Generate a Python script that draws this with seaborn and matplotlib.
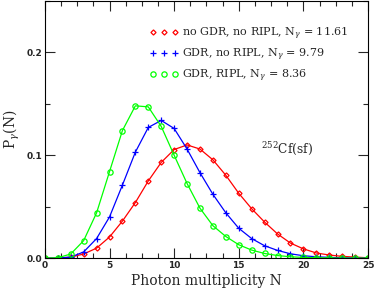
import seaborn as sns
import matplotlib.pyplot as plt
import numpy as np
from matplotlib.lines import Line2D
from matplotlib.ticker import MultipleLocator

sns.set_theme(style="ticks")
plt.rcParams["font.family"] = ["DejaVu Serif"]
plt.rcParams["mathtext.fontset"] = "dejavuserif"

N = np.arange(0, 26)

# no GDR, no RIPL
p_red = [0.0, 0.0, 0.001, 0.004, 0.0097, 0.0205, 0.036, 0.054, 0.075, 0.093,
         0.1055, 0.110, 0.106, 0.0955, 0.0805, 0.063, 0.048, 0.035, 0.0235,
         0.0146, 0.009, 0.005, 0.003, 0.0017, 0.001, 0.0003]
# GDR, no RIPL
p_blue = [0.0, 0.0, 0.001, 0.006, 0.019, 0.040, 0.071, 0.103, 0.127, 0.1338,
          0.126, 0.106, 0.083, 0.062, 0.044, 0.029, 0.019, 0.012, 0.0075,
          0.0042, 0.0023, 0.0013, 0.0007, 0.0003, 0.0001, 0.0]
# GDR, RIPL
p_green = [0.0, 0.0003, 0.004, 0.017, 0.044, 0.084, 0.124, 0.148, 0.147, 0.128,
           0.100, 0.0725, 0.0485, 0.0315, 0.021, 0.013, 0.0078, 0.0045, 0.0025,
           0.0013, 0.0007, 0.0004, 0.0002, 0.0, 0.0, 0.0]

labels = [r"no GDR, no RIPL, N$_\gamma$ = 11.61",
          r"GDR, no RIPL, N$_\gamma$ = 9.79",
          r"GDR, RIPL, N$_\gamma$ = 8.36"]
xticks = [0, 5, 10, 15, 20, 25]
yticks = [0.0, 0.1, 0.2]
colors = ["#ff0000", "#0000ff", "#00ff00"]
markers = ["D", "+", "o"]
msizes = [2.6, 4.5, 3.8]

fig = plt.figure(figsize=(3.74, 2.91), dpi=100)
ax = fig.add_axes([0.120, 0.113, 0.864, 0.884])

handles = []
for vals, c, m, ms, lab in zip([p_red, p_blue, p_green], colors, markers, msizes, labels):
    sns.lineplot(x=N, y=vals, ax=ax, color=c, linewidth=0.9, marker=m,
                 markersize=ms, markerfacecolor="none", markeredgecolor=c,
                 markeredgewidth=0.9)
    handles.append(Line2D([], [], linestyle="none", marker=m, color=c,
                          markersize=ms, markerfacecolor="none",
                          markeredgewidth=0.9, label=lab))

ax.set_xlim(0, 25)
ax.set_ylim(0, 0.25)
ax.set_xticks(xticks, [str(v) for v in xticks], fontfamily="DejaVu Sans",
              fontweight="bold", fontsize=6.5)
ax.set_yticks(yticks, [f"{v:.1f}" for v in yticks], fontfamily="DejaVu Sans",
              fontweight="bold", fontsize=6.5)
ax.xaxis.set_minor_locator(MultipleLocator(1.25))
ax.yaxis.set_minor_locator(MultipleLocator(0.05))
ax.tick_params(which="both", direction="in", top=True, right=True, width=0.8)
ax.tick_params(which="major", length=7, pad=2)
ax.tick_params(which="minor", length=3.5)
for sp in ax.spines.values():
    sp.set_linewidth(0.8)
    sp.set_color("black")

ax.set_xlabel("Photon multiplicity N", fontsize=10, labelpad=3)
ax.set_ylabel(r"P$_\gamma$(N)", fontsize=10, labelpad=3)

ax.legend(handles=handles, numpoints=3, frameon=False, fontsize=8,
          loc="upper left", bbox_to_anchor=(0.31, 0.923), handlelength=2.6,
          handletextpad=0.3, labelspacing=0.42, borderaxespad=0)

ax.text(0.67, 0.41, r"$^{252}$Cf(sf)", transform=ax.transAxes, fontsize=8.8)

fig.savefig("out.png", dpi=100)
